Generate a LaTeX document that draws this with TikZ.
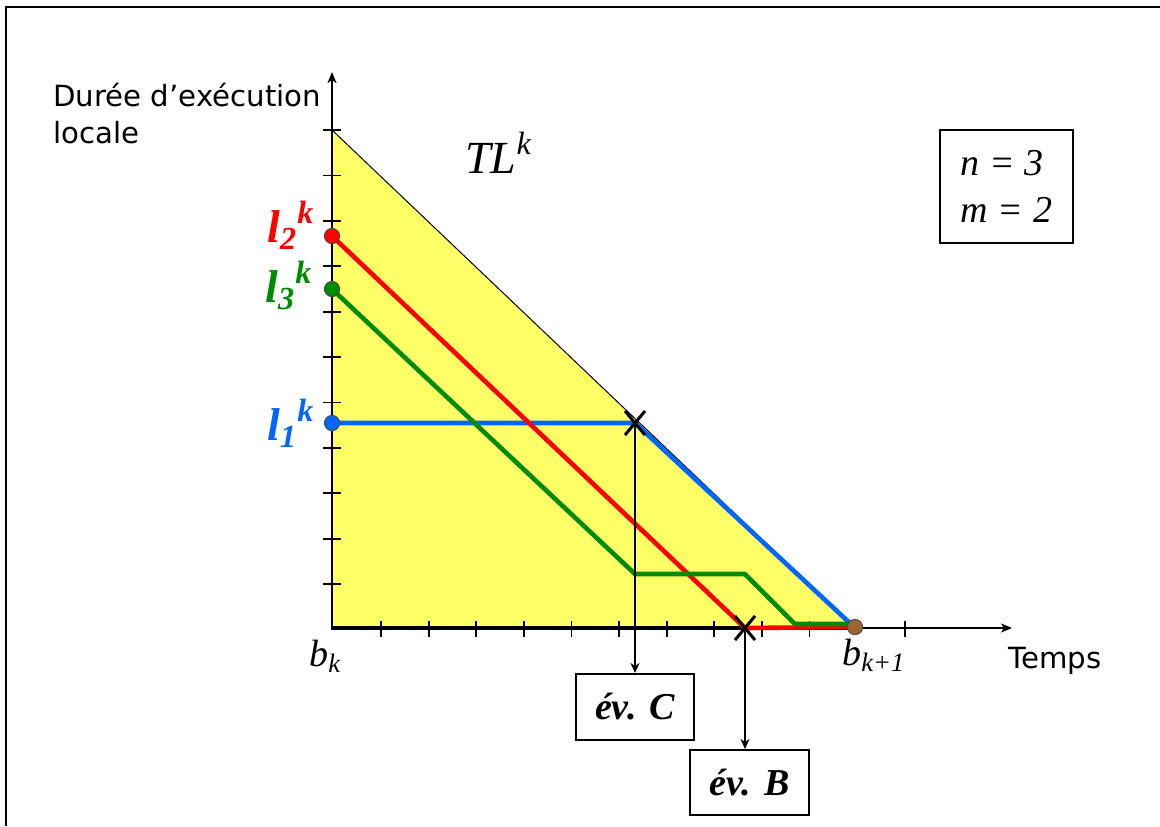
\documentclass[tikz,border=0pt]{standalone}
\usepackage{fontspec}
\setmainfont{Liberation Serif}
\newfontfamily\sansf{DejaVu Sans}
\usetikzlibrary{arrows.meta,calc}
\definecolor{yel}{RGB}{255,255,102}
\definecolor{myred}{RGB}{255,0,0}
\definecolor{mygreen}{RGB}{0,140,0}
\definecolor{myblue}{RGB}{0,102,255}
\definecolor{mybrown}{RGB}{153,102,51}
\tikzset{
  axisarrow/.style={-{Stealth[length=5.5pt,width=4.5pt,inset=1.5pt]}},
  tickmark/.style={line width=0.9pt},
  curve/.style={line width=2.3pt, line join=round},
  dotmark/.style={draw=black!70, line width=0.5pt},
  xmark/.style={line width=1.5pt},
  evbox/.style={draw, line width=1pt, inner sep=0pt, font=\fontsize{19}{22}\selectfont\bfseries\itshape},
  saxis/.style={font=\sansf\fontsize{14.6}{17}\selectfont},
  llab/.style={font=\fontsize{23}{27}\selectfont\bfseries\itshape, inner sep=0pt},
  blab/.style={font=\fontsize{19}{22}\selectfont\itshape, inner sep=0pt},
}
\begin{document}
\begin{tikzpicture}[x=0.5pt,y=-0.5pt]
\useasboundingbox (0,0) rectangle (1160,826);
% frame
\draw[line width=1.2pt] (6,826) -- (6,7) -- (1160,7);
% yellow triangle
\fill[yel] (332,130) -- (332,628) -- (855,628) -- cycle;
\draw[line width=0.5pt] (332,130) -- (855,628);
% axes
\draw[line width=1pt, axisarrow] (332,628) -- (332,72);
\draw[line width=1pt, axisarrow] (332,628) -- (1012,628);
\draw[line width=1.6pt] (331,628) -- (855,628);
\foreach \i in {0,...,10} \draw[tickmark] (323,{130+45.4*\i}) -- (341,{130+45.4*\i});
\foreach \i in {0,...,9,11} \draw[tickmark] ({381+47.6*\i},621) -- ({381+47.6*\i},637);
% coordinates
\coordinate (L2) at (332,236);
\coordinate (L3) at (332,289);
\coordinate (L1) at (332,423);
\coordinate (XC) at (635,423);
\coordinate (XB) at (745,628);
\coordinate (BK1) at (855,627);
% curves
\draw[curve, myblue] (L1) -- (XC) -- (853,626);
\draw[curve, myred] (L2) -- (XB) -- (852,627);
\draw[curve, mygreen] (L3) -- (635,574) -- (745,574) -- (795,624) -- (852,624);
% dots
\fill[myred, dotmark] (L2) circle[radius=3.8pt];
\fill[mygreen, dotmark] (L3) circle[radius=3.8pt];
\fill[myblue, dotmark] (L1) circle[radius=3.8pt];
\fill[mybrown, dotmark] (BK1) circle[radius=3.8pt];
% crosses
\draw[xmark] ($(XC)+(-10,-12)$) -- ($(XC)+(10,12)$) ($(XC)+(10,-12)$) -- ($(XC)+(-10,12)$);
\draw[xmark] ($(XB)+(-10,-12)$) -- ($(XB)+(10,12)$) ($(XB)+(10,-12)$) -- ($(XB)+(-10,12)$);
% event boxes
\node[evbox, minimum width=59pt, minimum height=33pt] (C) at (635,707) {év. C};
\node[evbox, minimum width=59.5pt, minimum height=32.5pt] (B) at (749.5,782.5) {év. B};
\draw[line width=0.8pt, -{Stealth[length=5pt,width=4.5pt,inset=1.5pt]}] (XC) -- (XC |- C.north);
\draw[line width=0.8pt, -{Stealth[length=5pt,width=4.5pt,inset=1.5pt]}] (XB) -- (XB |- B.north);
% param box
\node[draw, line width=1pt, minimum width=66.5pt, minimum height=56.5pt, align=left,
  font=\fontsize{19}{23.5}\selectfont\itshape] (P) at (1006.5,186.5) {n = 3\\m = 2};
% texts
\node[saxis, anchor=base west, inner sep=0pt] (Y1) at (53,106) {Durée d’exécution};
\node[saxis, anchor=base west, inner sep=0pt] (Y2) at (53,143) {locale};
\node[saxis, anchor=base west, inner sep=0pt] (T) at (1008,668) {Temps};
\node[anchor=base west, inner sep=0pt, font=\fontsize{23}{27}\selectfont\itshape] (TL) at (465,173) {TL\textsuperscript{k}};
\node[llab, anchor=base west, text=myred] (l2) at (267,242) {l\textsubscript{2}\textsuperscript{k}};
\node[llab, anchor=base west, text=mygreen] (l3) at (265,302) {l\textsubscript{3}\textsuperscript{k}};
\node[llab, anchor=base west, text=myblue] (l1) at (267,440) {l\textsubscript{1}\textsuperscript{k}};
\node[blab, anchor=base west] (bk) at (309,666) {b\textsubscript{k}};
\node[blab, anchor=base west] (bk1) at (842,665) {b\textsubscript{k+1}};
\end{tikzpicture}
\end{document}
